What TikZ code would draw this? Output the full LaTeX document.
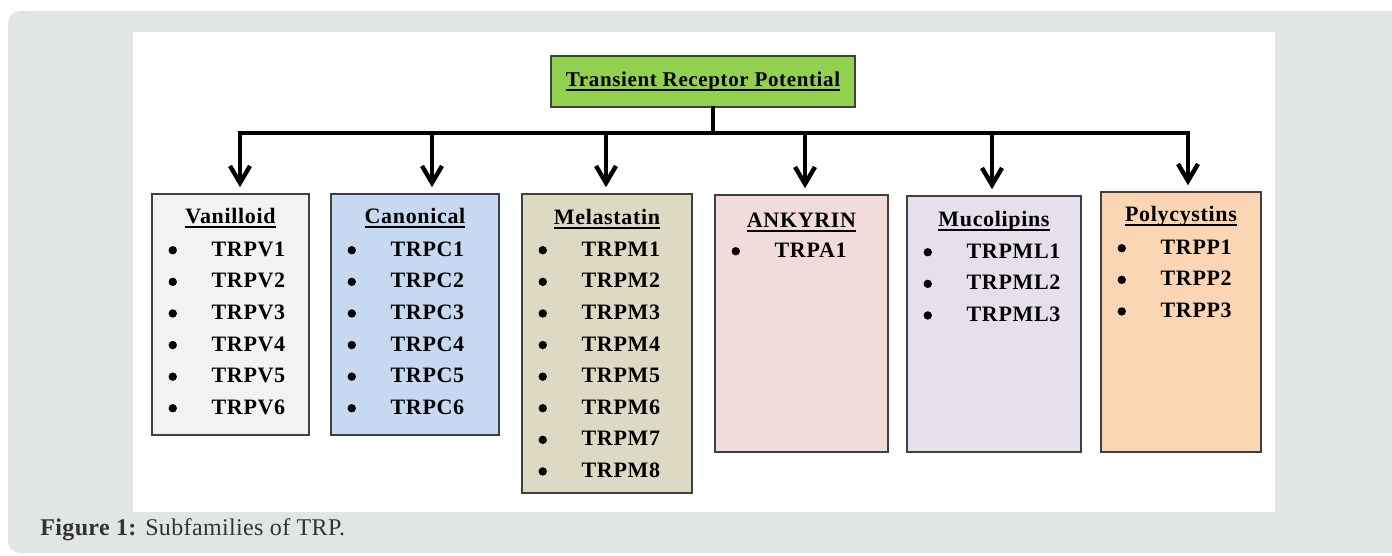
\documentclass[tikz,border=0pt]{standalone}
\usepackage{fontspec}
\setmainfont{Liberation Serif}
\newfontfamily\boxfont[LetterSpace=3]{Liberation Serif}
\newfontfamily\capfont[LetterSpace=1.5]{Liberation Serif}
\usetikzlibrary{arrows.meta, positioning}

\definecolor{framegray}{HTML}{E2E5E6}
\definecolor{boxline}{HTML}{404040}
\definecolor{trpgreen}{HTML}{92D050}
\definecolor{vanilloidgray}{HTML}{F2F2F2}
\definecolor{canonicalblue}{HTML}{C6D9F1}
\definecolor{melastatintan}{HTML}{DDD9C3}
\definecolor{ankyrinpink}{HTML}{F2DCDB}
\definecolor{mucolipinlilac}{HTML}{E5E0EC}
\definecolor{polycystinpeach}{HTML}{FCD5B4}
\definecolor{captiongray}{HTML}{333333}

% underline at a fixed depth, through the descenders
\newcommand{\ulined}[1]{\setbox0\hbox{#1}\rlap{\rule[-2.5pt]{\wd0}{1pt}}\box0}

\begin{document}
\begin{tikzpicture}[
    x=0.5pt, y=-0.5pt,
    family/.style={rectangle, draw=boxline, line width=0.75pt, inner sep=0pt},
    title/.style={anchor=base, inner sep=0pt, font=\boxfont\bfseries\fontsize{11}{13}\selectfont},
    item/.style={anchor=base west, inner sep=0pt, font=\boxfont\bfseries\fontsize{11}{13}\selectfont},
    dot/.style={circle, fill=black, minimum size=4.2pt, inner sep=0pt},
    bus/.style={line width=2pt, line cap=rect},
    arrow/.style={-{Straight Barb[length=8.5pt, width=10pt]}, line width=2.2pt, shorten >=3pt}
]

% ==== Background ====
\useasboundingbox (0,0) rectangle (1392,556);
\clip (0,0) rectangle (1392,556);
\fill[framegray, rounded corners=6pt] (8,11) rectangle (1420,553);
\fill[white] (133,32) rectangle (1275,512);

% ==== Root ====
\node[family, fill=trpgreen, minimum width=152pt, minimum height=25.5pt,
      font=\boxfont\bfseries\fontsize{10.5}{12}\selectfont] (trp) at (703,81.5)
      {\ulined{Transient Receptor Potential}};

% ==== Subfamilies ====
\node[family, fill=vanilloidgray, minimum width=78.5pt, minimum height=120.5pt] (vanilloid) at (230.5,314.5) {};
\node[family, fill=canonicalblue, minimum width=84pt, minimum height=120.5pt] (canonical) at (415,314.5) {};
\node[family, fill=melastatintan, minimum width=85pt, minimum height=149.5pt] (melastatin) at (607,343.5) {};
\node[family, fill=ankyrinpink, minimum width=86.5pt, minimum height=128.5pt] (ankyrin) at (801.5,323.5) {};
\node[family, fill=mucolipinlilac, minimum width=87pt, minimum height=128pt] (mucolipin) at (994,324) {};
\node[family, fill=polycystinpeach, minimum width=80pt, minimum height=130pt] (polycystin) at (1181,322) {};

% ==== Titles ====
\node[title] (vanilloid-title) at ([yshift=-15pt]vanilloid.north) {\ulined{Vanilloid}};
\node[title] (canonical-title) at ([yshift=-15pt]canonical.north) {\ulined{Canonical}};
\node[title] (melastatin-title) at ([yshift=-15.5pt]melastatin.north) {\ulined{Melastatin}};
\node[title] (ankyrin-title) at ([yshift=-16.5pt]ankyrin.north) {\ulined{ANKYRIN}};
\node[title] (mucolipin-title) at ([yshift=-15.5pt]mucolipin.north) {\ulined{Mucolipins}};
\node[title] (polycystin-title) at ([yshift=-15pt]polycystin.north) {\ulined{Polycystins}};

% ==== Members ====
\foreach \fam/\code/\n in {vanilloid/TRPV/6, canonical/TRPC/6, melastatin/TRPM/8,
                           ankyrin/TRPA/1, mucolipin/TRPML/3, polycystin/TRPP/3}
  \foreach \i in {1,...,\n} {
    \node[dot] (\fam-dot\i) at ([xshift=10.75pt, yshift={-28.5pt-(\i-1)*15.8pt}]\fam.north west) {};
    \node[item] (\fam-\i) at ([xshift=30pt, yshift={-31.5pt-(\i-1)*15.8pt}]\fam.north west) {\code\i};
  }

% ==== Connectors ====
\coordinate (stem) at (713,133);
\draw[bus] (stem |- trp.south) -- (stem);
\foreach \fam/\x in {vanilloid/240, canonical/432, melastatin/606,
                     ankyrin/805, mucolipin/992, polycystin/1188}
  \coordinate (bus-\fam) at (\x,133);
\draw[bus] (bus-vanilloid) -- (bus-polycystin);
\foreach \fam in {vanilloid, canonical, melastatin, ankyrin, mucolipin, polycystin}
  \draw[arrow] (bus-\fam) -- (bus-\fam |- \fam.north);

% ==== Caption ====
\node[anchor=base west, inner sep=0pt, text=captiongray,
      font=\capfont\fontsize{12}{14}\selectfont] (caption) at (40,535)
      {\textbf{Figure 1:} Subfamilies of TRP.};

\end{tikzpicture}
\end{document}
